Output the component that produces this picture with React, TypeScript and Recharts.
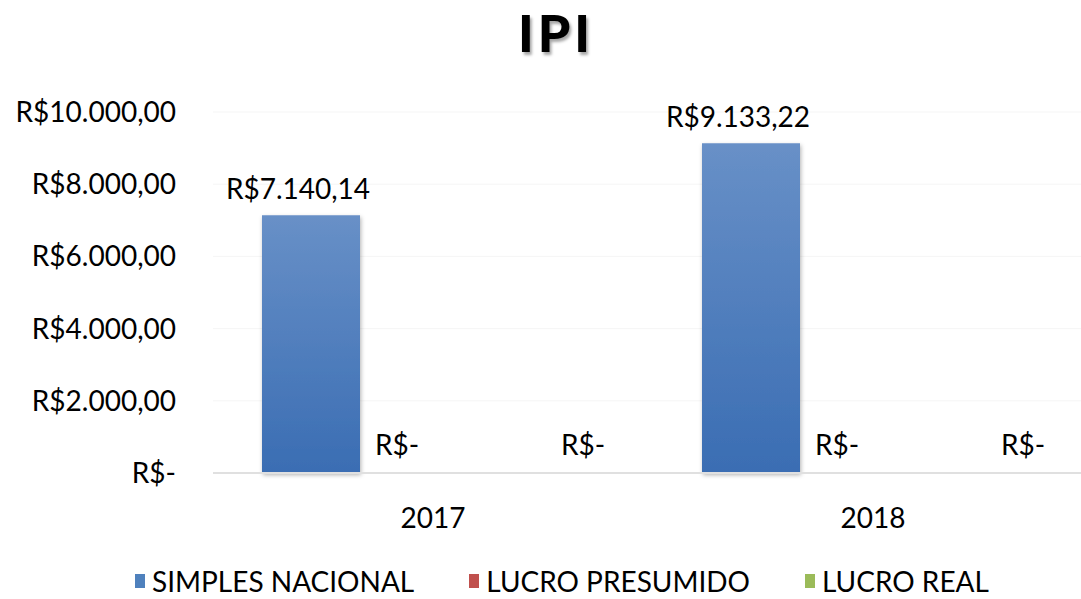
import React from 'react';
import { BarChart, Bar, XAxis, YAxis, CartesianGrid, Legend, LabelList } from 'recharts';

const categories = ['2017', '2018'];
const simplesNacional = [7140.14, 9133.22];
const lucroPresumido = [0, 0];
const lucroReal = [0, 0];
const yTicks = [0, 2000, 4000, 6000, 8000, 10000];
const seriesNames = ['SIMPLES NACIONAL', 'LUCRO PRESUMIDO', 'LUCRO REAL'];
const seriesColors = ['#4f81bd', '#c0504d', '#9bbb59'];
const title = 'IPI';

const data = categories.map((c, i) => ({
  name: c,
  s: simplesNacional[i],
  p: lucroPresumido[i],
  r: lucroReal[i],
}));

const FONT = 'Lato, "Open Sans", sans-serif';
const FS = 28;

function brl(v: number): string {
  if (v === 0) return 'R$-';
  const [intPart, dec] = v.toFixed(2).split('.');
  const withDots = intPart.replace(/\B(?=(\d{3})+(?!\d))/g, '.');
  return `R$${withDots},${dec}`;
}

const makeLabel = (dx: number, dyAbove: number) => (props: any) => {
  const { x, y, width, value } = props;
  return (
    <text
      x={Number(x) + Number(width) / 2 + dx}
      y={Number(y) - dyAbove}
      textAnchor="middle"
      fontSize={FS}
      fontFamily={FONT}
      fill="#000"
    >
      {brl(Number(value))}
    </text>
  );
};

const LegendContent = () => (
  <div
    style={{
      display: 'flex',
      alignItems: 'center',
      paddingLeft: 135,
      fontFamily: FONT,
      fontSize: FS,
      color: '#000',
      height: 36,
      whiteSpace: 'nowrap',
    }}
  >
    {seriesNames.map((n, i) => (
      <div key={n} style={{ display: 'flex', alignItems: 'center', marginRight: 55 }}>
        <span
          style={{
            display: 'inline-block',
            width: 10,
            height: 14,
            background: seriesColors[i],
            marginRight: 7,
          }}
        />
        <span>{n}</span>
      </div>
    ))}
  </div>
);

export default function App() {
  return (
    <div
      style={{
        position: 'absolute',
        left: 0,
        top: 0,
        width: 1081,
        height: 599,
        overflow: 'hidden',
        background: '#fff',
      }}
    >
      <div
        style={{
          position: 'absolute',
          top: 6,
          left: 0,
          width: 1112,
          textAlign: 'center',
          fontFamily: FONT,
          fontWeight: 900,
          fontSize: 52,
          lineHeight: '52px',
          letterSpacing: 4,
          color: '#000',
          textShadow: '2px 3px 3px rgba(0,0,0,0.35)',
        }}
      >
        {title}
      </div>
      <BarChart
        width={1100}
        height={599}
        data={data}
        margin={{ top: 112, right: 7, left: 0, bottom: 0 }}
        barCategoryGap={49}
        barGap={24}
      >
        <defs>
          <linearGradient id="blueGrad" x1="0" y1="0" x2="0" y2="1">
            <stop offset="0%" stopColor="#6890c7" />
            <stop offset="100%" stopColor="#3a6db3" />
          </linearGradient>
          <filter id="shadow" x="-10%" y="-10%" width="130%" height="130%">
            <feDropShadow dx="1" dy="2" stdDeviation="2" floodColor="#000" floodOpacity="0.3" />
          </filter>
        </defs>
        <CartesianGrid vertical={false} stroke="#f5f5f5" />
        <XAxis
          dataKey="name"
          height={90}
          axisLine={{ stroke: '#e0e0e0', strokeWidth: 2 }}
          tickLine={false}
          tickSize={0}
          tickMargin={35}
          tick={{ fontSize: FS, fontFamily: FONT, fill: '#000' }}
        />
        <YAxis
          width={213}
          domain={[0, 10000]}
          ticks={yTicks}
          interval={0}
          axisLine={false}
          tickLine={false}
          tickSize={0}
          tickMargin={37}
          tickFormatter={(v: number) => brl(v)}
          tick={{ fontSize: FS, fontFamily: FONT, fill: '#000' }}
        />
        <Legend verticalAlign="bottom" height={36} content={<LegendContent />} />
        <Bar
          dataKey="s"
          name={seriesNames[0]}
          fill="url(#blueGrad)"
          filter="url(#shadow)"
          isAnimationActive={false}
        >
          <LabelList dataKey="s" content={makeLabel(-13, 16)} />
        </Bar>
        <Bar
          dataKey="p"
          name={seriesNames[1]}
          fill={seriesColors[1]}
          isAnimationActive={false}
          minPointSize={0.01}
        >
          <LabelList dataKey="p" content={makeLabel(-36, 18)} />
        </Bar>
        <Bar
          dataKey="r"
          name={seriesNames[2]}
          fill={seriesColors[2]}
          isAnimationActive={false}
          minPointSize={0.01}
        >
          <LabelList dataKey="r" content={makeLabel(28, 18)} />
        </Bar>
      </BarChart>
    </div>
  );
}
